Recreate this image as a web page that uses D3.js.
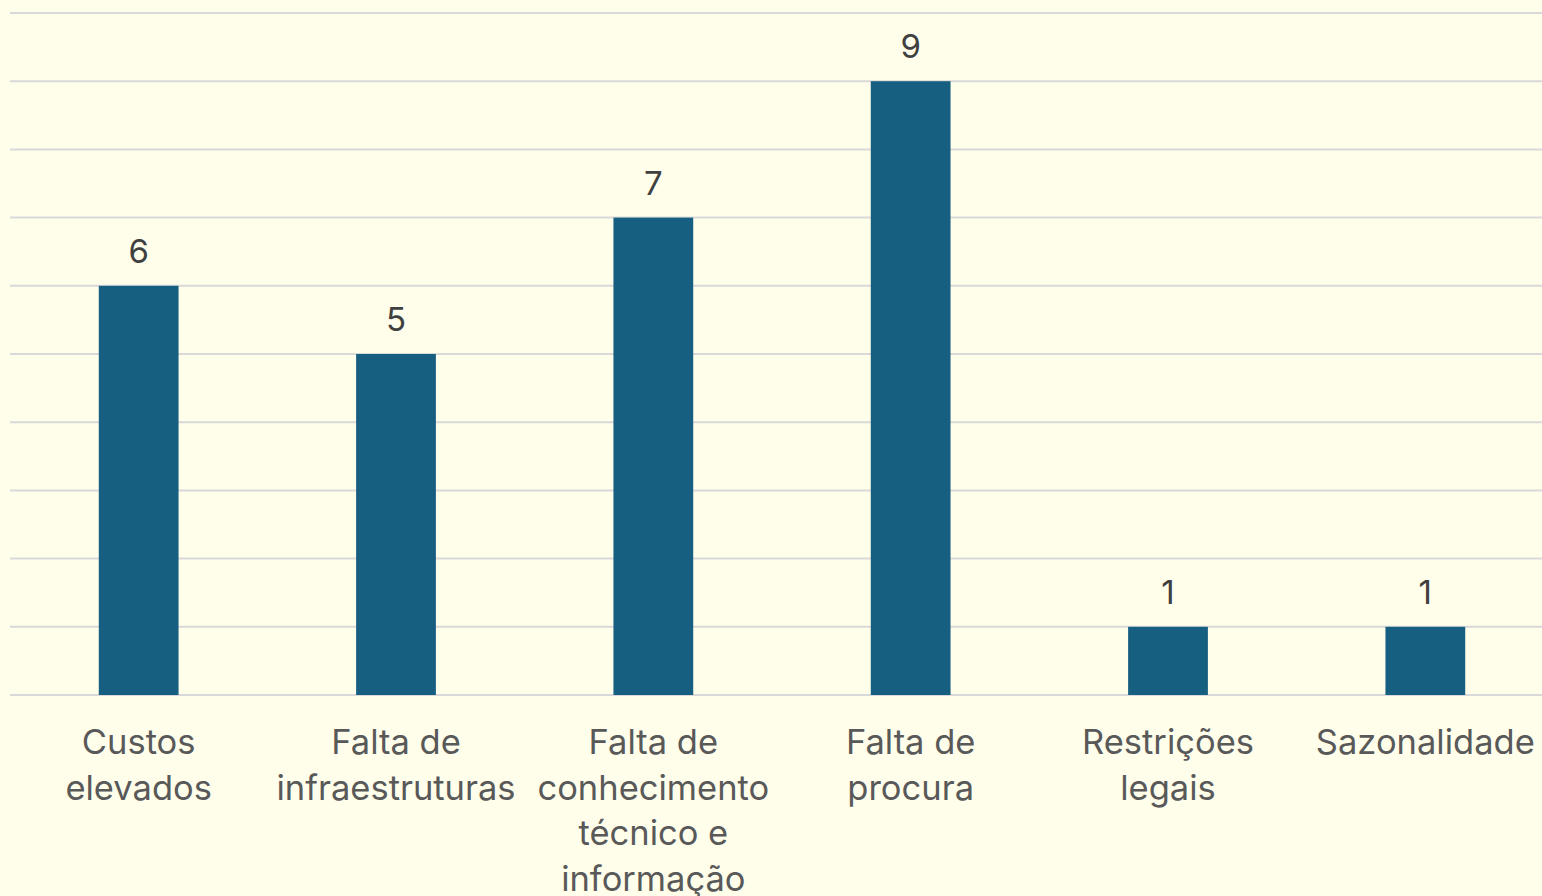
<!DOCTYPE html>
<html lang="pt">
<head>
  <meta charset="utf-8">
  <title>Obstáculos</title>
  <script src="https://d3js.org/d3.v7.min.js"></script>
  <style>
    html, body { margin: 0; padding: 0; background: #FEFEEB; }
    svg { display: block; }
    .grid line { stroke: #D9D9D9; stroke-width: 2; }
    .bar { fill: #175F81; }
    .value { fill: #404040; font-size: 33px; text-anchor: middle; }
    .cat { fill: #595959; font-size: 34.5px; text-anchor: middle; }
    text { font-family: Inter, "Noto Sans", sans-serif; }
  </style>
</head>
<body>
<script>
  // data
  const categories = [
    "Custos\nelevados",
    "Falta de\ninfraestruturas",
    "Falta de\nconhecimento\ntécnico e\ninformação",
    "Falta de\nprocura",
    "Restrições\nlegais",
    "Sazonalidade"
  ];
  const values = [6, 5, 7, 9, 1, 1];
  const yTicks = [0, 1, 2, 3, 4, 5, 6, 7, 8, 9, 10];

  const width = 1542, height = 896;
  const svg = d3.select("body").append("svg")
    .attr("width", width)
    .attr("height", height);

  const x = d3.scaleBand()
    .domain(categories)
    .range([10, 1554])
    .paddingInner(0.69)
    .paddingOuter(0.345);

  const y = d3.scaleLinear()
    .domain([0, 10])
    .range([695, 13]);

  // gridlines
  svg.append("g").attr("class", "grid")
    .selectAll("line")
    .data(yTicks)
    .enter().append("line")
    .attr("x1", 10)
    .attr("x2", width)
    .attr("y1", d => y(d))
    .attr("y2", d => y(d));

  const rows = categories.map((c, i) => ({ cat: c, val: values[i] }));

  // bars
  svg.selectAll(".bar")
    .data(rows)
    .enter().append("rect")
    .attr("class", "bar")
    .attr("x", d => x(d.cat))
    .attr("width", x.bandwidth())
    .attr("y", d => y(d.val))
    .attr("height", d => y(0) - y(d.val));

  // value labels
  svg.selectAll(".value")
    .data(rows)
    .enter().append("text")
    .attr("class", "value")
    .attr("x", d => x(d.cat) + x.bandwidth() / 2)
    .attr("y", d => y(d.val) - 23)
    .text(d => d.val);

  // category labels
  const labels = svg.selectAll(".cat")
    .data(rows)
    .enter().append("text")
    .attr("class", "cat")
    .attr("transform", d => `translate(${x(d.cat) + x.bandwidth() / 2},754)`);

  labels.selectAll("tspan")
    .data(d => d.cat.split("\n"))
    .enter().append("tspan")
    .attr("x", 0)
    .attr("y", (d, i) => i * 45.7)
    .text(d => d);
</script>
</body>
</html>
